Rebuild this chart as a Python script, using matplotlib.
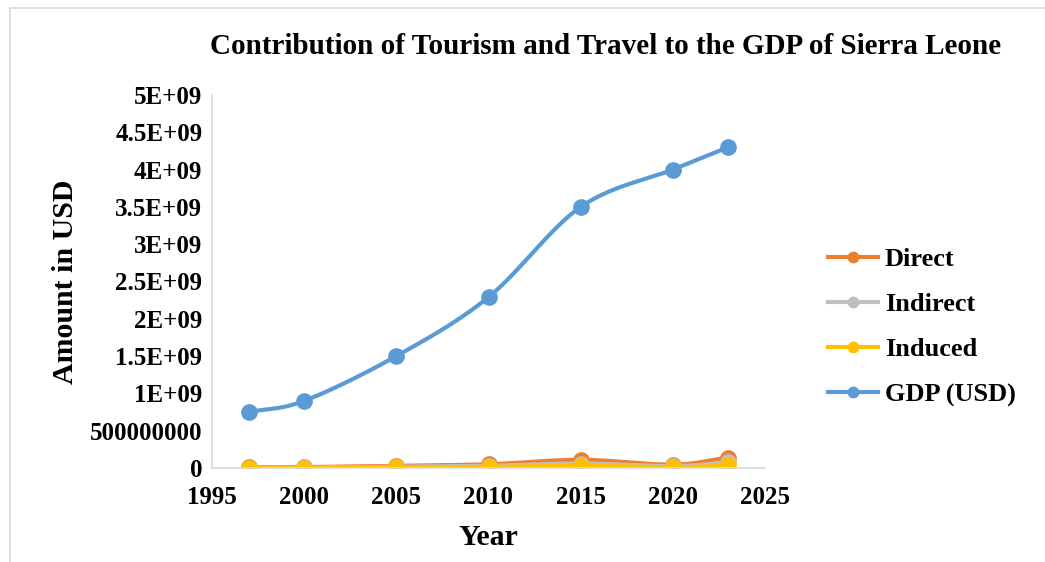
import numpy as np
import matplotlib
matplotlib.use("Agg")
import matplotlib.pyplot as plt
from matplotlib.patches import Rectangle

# data
years = [1997, 2000, 2005, 2010, 2015, 2020, 2023]
direct = [1.0e7, 1.2e7, 3.0e7, 5.0e7, 1.1e8, 4.5e7, 1.4e8]
indirect = [5.0e6, 7.0e6, 1.8e7, 3.0e7, 6.0e7, 2.5e7, 7.5e7]
induced = [2.0e6, 3.0e6, 8.0e6, 1.5e7, 3.0e7, 1.0e7, 3.5e7]
gdp = [7.5e8, 9.0e8, 1.5e9, 2.29e9, 3.5e9, 4.0e9, 4.3e9]

series = [
    ("Direct", direct, "#ED7D31"),
    ("Indirect", indirect, "#BFBFBF"),
    ("Induced", induced, "#FFC000"),
    ("GDP (USD)", gdp, "#5B9BD5"),
]

ytick_vals = [0, 5e8, 1e9, 1.5e9, 2e9, 2.5e9, 3e9, 3.5e9, 4e9, 4.5e9, 5e9]
ytick_labels = ["0", "500000000", "1E+09", "1.5E+09", "2E+09", "2.5E+09",
                "3E+09", "3.5E+09", "4E+09", "4.5E+09", "5E+09"]
xtick_vals = [1995, 2000, 2005, 2010, 2015, 2020, 2025]


def smooth(x, y, n=30):
    """Catmull-Rom curve through the points, like Excel's smoothed line."""
    x = np.asarray(x, float)
    y = np.asarray(y, float)
    px = np.concatenate([[2 * x[0] - x[1]], x, [2 * x[-1] - x[-2]]])
    py = np.concatenate([[2 * y[0] - y[1]], y, [2 * y[-1] - y[-2]]])
    xs, ys = [], []
    t = np.linspace(0, 1, n)
    for i in range(1, len(px) - 2):
        for p, out in ((px, xs), (py, ys)):
            p0, p1, p2, p3 = p[i - 1], p[i], p[i + 1], p[i + 2]
            out.extend(0.5 * ((2 * p1) + (-p0 + p2) * t
                              + (2 * p0 - 5 * p1 + 4 * p2 - p3) * t ** 2
                              + (-p0 + 3 * p1 - 3 * p2 + p3) * t ** 3))
    return np.array(xs), np.array(ys)


plt.rcParams["font.family"] = ["Liberation Serif", "DejaVu Serif"]
plt.rcParams["font.weight"] = "bold"

fig = plt.figure(figsize=(10.45, 5.62), dpi=100)
fig.patches.append(Rectangle((10 / 1045, -0.1), 1.2, 1 - 8 / 562 + 0.1,
                             transform=fig.transFigure, fill=False,
                             edgecolor="#d9d9d9", linewidth=1.2))
ax = fig.add_axes([212 / 1045, 94 / 562, (765 - 212) / 1045, (468 - 95) / 562])

for name, vals, color in series:
    sx, sy = smooth(years, vals)
    ax.plot(sx, sy, color=color, linewidth=3, solid_capstyle="round")
    ax.plot(years, vals, "o", color=color, markersize=11)
    ax.plot([], [], "-o", color=color, linewidth=3, markersize=7.5, label=name)

ax.set_xlim(1995, 2025)
ax.set_ylim(0, 5e9)
ax.set_xticks(xtick_vals)
ax.set_xticklabels([str(v) for v in xtick_vals], fontsize=18, fontweight="bold")
ax.set_yticks(ytick_vals)
ax.set_yticklabels(ytick_labels, fontsize=18, fontweight="bold")
ax.tick_params(length=0)
ax.tick_params(axis="y", pad=7)
ax.tick_params(axis="x", pad=13)
for side in ("top", "right"):
    ax.spines[side].set_visible(False)
for side in ("left", "bottom"):
    ax.spines[side].set_color("#d9d9d9")
    ax.spines[side].set_linewidth(1.2)

ax.set_xlabel("Year", fontsize=21.5, fontweight="bold", labelpad=11)
ax.set_ylabel("Amount in USD", fontsize=21.5, fontweight="bold", labelpad=8)
fig.text(606 / 1045, 1 - 47 / 562,
         "Contribution of Tourism and Travel to the GDP of Sierra Leone",
         ha="center", va="center", fontsize=21, fontweight="bold")

ax.legend(loc="center left", bbox_to_anchor=(828 / 1045, 1 - 327 / 562),
          bbox_transform=fig.transFigure, frameon=False, borderpad=0,
          borderaxespad=0, prop={"size": 19, "weight": "bold"},
          handlelength=1.9, handletextpad=0.25, labelspacing=0.82)

fig.savefig("out.png", dpi=100)
